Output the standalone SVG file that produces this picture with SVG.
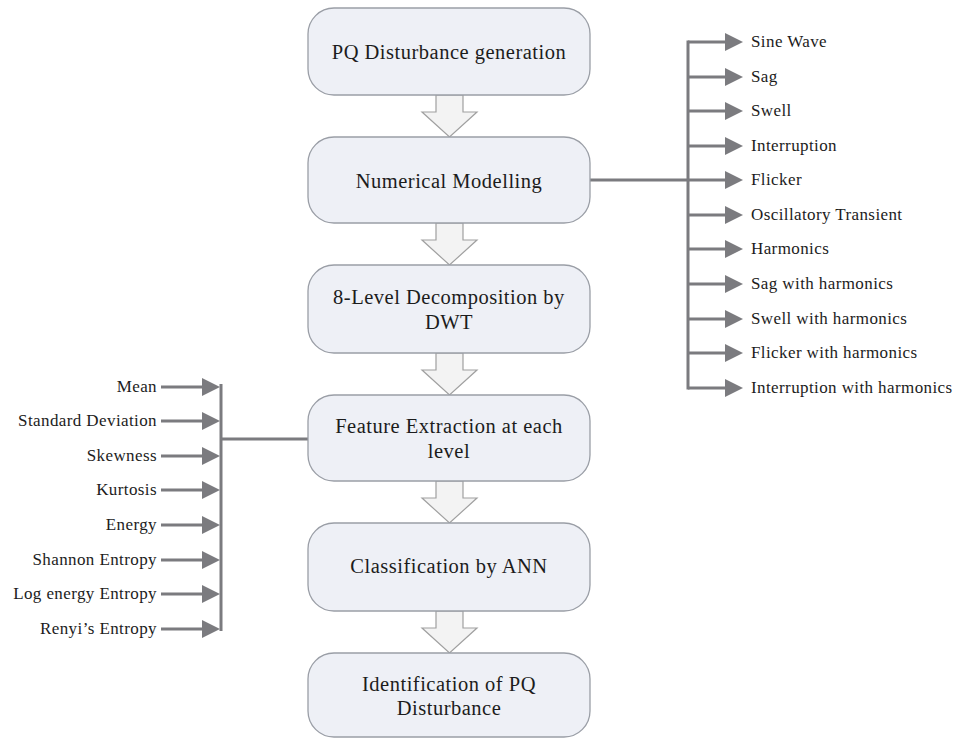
<svg xmlns="http://www.w3.org/2000/svg" xmlns:xlink="http://www.w3.org/1999/xlink" width="960" height="740" viewBox="0 0 960 740">
<style>
.box{fill:#eef0f6;stroke:#9a9ea6;stroke-width:1.3}
.bt{font-family:Liberation Serif, serif;font-size:20.5px;letter-spacing:0.5px;fill:#1c1c1c;text-anchor:middle}
.lbl{font-family:Liberation Serif, serif;font-size:17px;letter-spacing:0.4px;fill:#1c1c1c}
.ll{text-anchor:end}
.con{stroke:#7b7b7f;stroke-width:3;fill:none}
.blk{fill:#f3f3f3;stroke:#a0a0a0;stroke-width:1.2}
</style>
<defs>
<marker id="ah" markerUnits="userSpaceOnUse" markerWidth="18" markerHeight="20" refX="10" refY="10" orient="auto">
<path d="M0,1 L18,10 L0,19 z" fill="#7b7b7f"/>
</marker>
<path id="blkarrow" class="blk" d="M-13.5,0 h27 v17 h14 l-27.5,25 l-27.5,-25 h14 z"/>
</defs>
<rect width="960" height="740" fill="#ffffff"/>

<g id="connectors">
<use xlink:href="#blkarrow" x="449.5" y="95"/>
<use xlink:href="#blkarrow" x="449.5" y="223"/>
<use xlink:href="#blkarrow" x="449.5" y="353"/>
<use xlink:href="#blkarrow" x="449.5" y="481"/>
<use xlink:href="#blkarrow" x="449.5" y="611"/>
<line class="con" x1="590" y1="180" x2="688" y2="180"/>
<line class="con" x1="688" y1="40.5" x2="688" y2="389.5"/>
<line class="con" x1="688" y1="42" x2="735" y2="42" marker-end="url(#ah)"/>
<line class="con" x1="688" y1="77" x2="735" y2="77" marker-end="url(#ah)"/>
<line class="con" x1="688" y1="111" x2="735" y2="111" marker-end="url(#ah)"/>
<line class="con" x1="688" y1="146" x2="735" y2="146" marker-end="url(#ah)"/>
<line class="con" x1="688" y1="180" x2="735" y2="180" marker-end="url(#ah)"/>
<line class="con" x1="688" y1="215" x2="735" y2="215" marker-end="url(#ah)"/>
<line class="con" x1="688" y1="249" x2="735" y2="249" marker-end="url(#ah)"/>
<line class="con" x1="688" y1="284" x2="735" y2="284" marker-end="url(#ah)"/>
<line class="con" x1="688" y1="319" x2="735" y2="319" marker-end="url(#ah)"/>
<line class="con" x1="688" y1="353" x2="735" y2="353" marker-end="url(#ah)"/>
<line class="con" x1="688" y1="388" x2="735" y2="388" marker-end="url(#ah)"/>
<line class="con" x1="221" y1="384" x2="221" y2="631"/>
<line class="con" x1="221" y1="439" x2="308" y2="439"/>
<line class="con" x1="161" y1="387" x2="212" y2="387" marker-end="url(#ah)"/>
<line class="con" x1="161" y1="421" x2="212" y2="421" marker-end="url(#ah)"/>
<line class="con" x1="161" y1="456" x2="212" y2="456" marker-end="url(#ah)"/>
<line class="con" x1="161" y1="490" x2="212" y2="490" marker-end="url(#ah)"/>
<line class="con" x1="161" y1="525" x2="212" y2="525" marker-end="url(#ah)"/>
<line class="con" x1="161" y1="560" x2="212" y2="560" marker-end="url(#ah)"/>
<line class="con" x1="161" y1="594" x2="212" y2="594" marker-end="url(#ah)"/>
<line class="con" x1="161" y1="629" x2="212" y2="629" marker-end="url(#ah)"/>
</g>

<g id="n1"><rect class="box" x="308" y="8" width="282" height="87" rx="26"/><text class="bt" x="449" y="59">PQ Disturbance generation</text></g>
<g id="n2"><rect class="box" x="308" y="137" width="282" height="86" rx="26"/><text class="bt" x="449" y="188">Numerical Modelling</text></g>
<g id="n3"><rect class="box" x="308" y="265" width="282" height="88" rx="26"/><text class="bt" x="449" y="304">8-Level Decomposition by</text><text class="bt" x="449" y="329">DWT</text></g>
<g id="n4"><rect class="box" x="308" y="395" width="282" height="86" rx="26"/><text class="bt" x="449" y="433">Feature Extraction at each</text><text class="bt" x="449" y="458">level</text></g>
<g id="n5"><rect class="box" x="308" y="523" width="282" height="88" rx="26"/><text class="bt" x="449" y="573">Classification by ANN</text></g>
<g id="n6"><rect class="box" x="308" y="653" width="282" height="84" rx="26"/><text class="bt" x="449" y="691">Identification of PQ</text><text class="bt" x="449" y="715">Disturbance</text></g>

<g id="right-labels">
<text class="lbl" x="751" y="47">Sine Wave</text>
<text class="lbl" x="751" y="82">Sag</text>
<text class="lbl" x="751" y="116">Swell</text>
<text class="lbl" x="751" y="151">Interruption</text>
<text class="lbl" x="751" y="185">Flicker</text>
<text class="lbl" x="751" y="220">Oscillatory Transient</text>
<text class="lbl" x="751" y="254">Harmonics</text>
<text class="lbl" x="751" y="289">Sag with harmonics</text>
<text class="lbl" x="751" y="324">Swell with harmonics</text>
<text class="lbl" x="751" y="358">Flicker with harmonics</text>
<text class="lbl" x="751" y="393">Interruption with harmonics</text>
</g>
<g id="left-labels">
<text class="lbl ll" x="157" y="392">Mean</text>
<text class="lbl ll" x="157" y="426">Standard Deviation</text>
<text class="lbl ll" x="157" y="461">Skewness</text>
<text class="lbl ll" x="157" y="495">Kurtosis</text>
<text class="lbl ll" x="157" y="530">Energy</text>
<text class="lbl ll" x="157" y="565">Shannon Entropy</text>
<text class="lbl ll" x="157" y="599">Log energy Entropy</text>
<text class="lbl ll" x="157" y="634">Renyi’s Entropy</text>
</g>
</svg>
